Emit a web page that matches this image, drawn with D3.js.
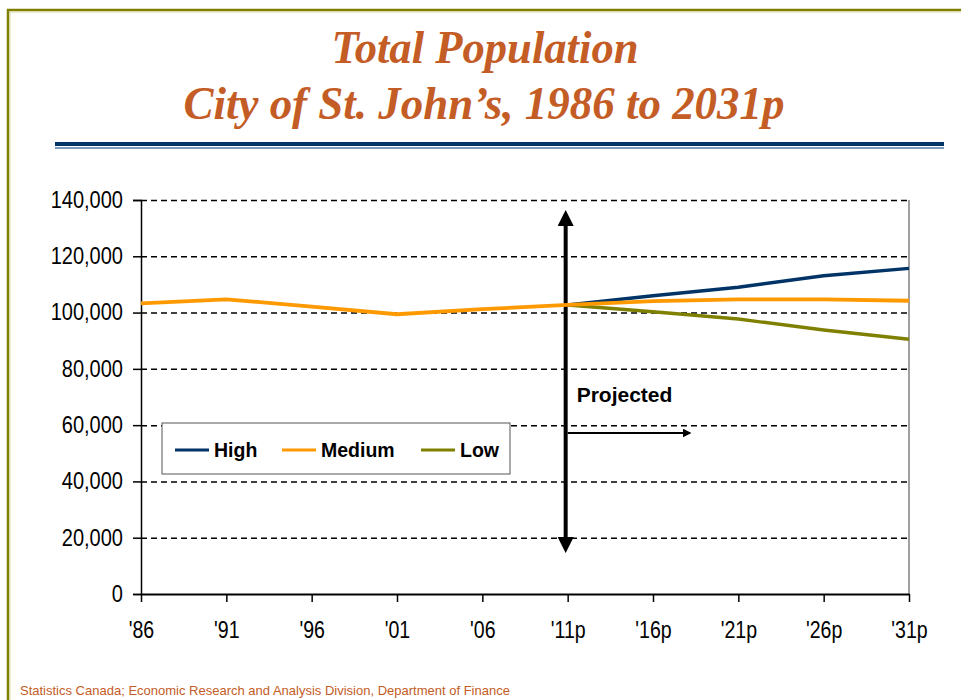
<!DOCTYPE html>
<html>
<head>
<meta charset="utf-8">
<script src="https://cdn.jsdelivr.net/npm/d3@7"></script>
<style>
  body { margin: 0; background: #fff; }
  .grid line { stroke: #000; stroke-dasharray: 6,4; stroke-width: 1.5; }
  .grid path { stroke: none; }
  .axis text { font-family: "Liberation Sans", Arial, sans-serif; font-size: 23px; fill: #000; }
</style>
</head>
<body>
<div id="chart"></div>
<script>
const W = 961, H = 700
const margin = {top: 200, right: 52, bottom: 106, left: 141}
const width = W - margin.left - margin.right, height = H - margin.top - margin.bottom

const years = ["'86", "'91", "'96", "'01", "'06", "'11p", "'16p", "'21p", "'26p", "'31p"]
const yTicks = [0, 20000, 40000, 60000, 80000, 100000, 120000, 140000]
const medium = [103300, 104700, 102100, 99400, 101200, 102700, 104100, 104700, 104700, 104200]
const high   = [null, null, null, null, null, 102700, 106000, 109000, 113100, 115700]
const low    = [null, null, null, null, null, 102700, 100300, 97700, 93800, 90500]
const seriesNames = ["High", "Medium", "Low"]
const seriesColors = ["#003366", "#ff9900", "#808000"]

const svg = d3.select("#chart").append("svg")
    .attr("width", W).attr("height", H)

// page frame
svg.append("path").attr("d", "M8,700V10H961").attr("fill", "none").attr("stroke", "#808000").attr("stroke-width", 2.5)
svg.append("path").attr("d", "M10,700V12H961").attr("fill", "none").attr("stroke", "#d8d8a0").attr("stroke-width", 1)

// title
const title = svg.append("g").attr("font-family", "'Liberation Serif', 'Times New Roman', serif")
    .attr("font-weight", "bold").attr("font-style", "italic").attr("fill", "#c45c26")
    .attr("font-size", 46).attr("text-anchor", "middle")
title.append("text").attr("x", 485).attr("y", 63).attr("textLength", 307).attr("lengthAdjust", "spacingAndGlyphs").text("Total Population")
title.append("text").attr("x", 484).attr("y", 119).attr("textLength", 601).attr("lengthAdjust", "spacingAndGlyphs").text("City of St. John\u2019s, 1986 to 2031p")

// double rule under the title
svg.append("rect").attr("x", 55).attr("y", 142).attr("width", 889).attr("height", 4).attr("fill", "#003366")
svg.append("rect").attr("x", 55).attr("y", 147).attr("width", 889).attr("height", 2).attr("fill", "#7f9bbf")

const g = svg.append("g").attr("transform", `translate(${margin.left},${margin.top})`)

const x = d3.scalePoint().domain(years).range([0, width])
const y = d3.scaleLinear().domain([0, 140000]).range([height, 0])

// gridlines
g.append("g").attr("class", "grid")
    .call(d3.axisLeft(y).tickValues(yTicks.filter(d => d > 0)).tickSize(-width).tickFormat(""))

// right border of plot
g.append("line").attr("x1", width).attr("x2", width).attr("y1", 0).attr("y2", height).attr("stroke", "#808080").attr("stroke-width", 1.5)

// narrow the axis labels (reference uses a condensed face)
function condense(sel, k) {
    sel.selectAll("text").each(function () {
        const len = this.getComputedTextLength()
        d3.select(this).attr("textLength", len * k).attr("lengthAdjust", "spacingAndGlyphs")
    })
}

// y axis
const yAxis = g.append("g").attr("class", "axis")
    .call(d3.axisLeft(y).tickValues(yTicks).tickSize(8).tickPadding(10).tickFormat(d3.format(",")))
yAxis.select(".domain").attr("stroke-width", 1.5)
yAxis.selectAll(".tick line").attr("stroke-width", 1.5)
condense(yAxis, 0.87)

// x axis
const xAxis = g.append("g").attr("class", "axis").attr("transform", `translate(0,${height})`)
    .call(d3.axisBottom(x).tickSize(8).tickSizeOuter(0).tickPadding(20))
xAxis.select(".domain").attr("stroke-width", 2)
xAxis.selectAll(".tick line").attr("stroke-width", 1.5)
condense(xAxis, 0.85)

// projection arrows
const xp = x("'11p") - 2
const defs = svg.append("defs")
defs.append("marker").attr("id", "bighead").attr("viewBox", "0 0 10 10").attr("refX", 5).attr("refY", 5)
    .attr("markerWidth", 4.2).attr("markerHeight", 4).attr("orient", "auto-start-reverse").attr("markerUnits", "strokeWidth")
    .append("path").attr("d", "M0,0L10,5L0,10Z").attr("fill", "#000")
defs.append("marker").attr("id", "smallhead").attr("viewBox", "0 0 10 10").attr("refX", 5).attr("refY", 5)
    .attr("markerWidth", 5).attr("markerHeight", 5).attr("orient", "auto").attr("markerUnits", "strokeWidth")
    .append("path").attr("d", "M0,0L10,5L0,10Z").attr("fill", "#000")
g.append("line").attr("x1", xp).attr("x2", xp).attr("y1", 18).attr("y2", 345)
    .attr("stroke", "#000").attr("stroke-width", 4)
    .attr("marker-start", "url(#bighead)").attr("marker-end", "url(#bighead)")
g.append("line").attr("x1", xp + 2).attr("x2", 546).attr("y1", 233).attr("y2", 233)
    .attr("stroke", "#000").attr("stroke-width", 1.8).attr("marker-end", "url(#smallhead)")
g.append("text").attr("x", xp + 11).attr("y", 202)
    .attr("font-family", "'Liberation Sans', Arial, sans-serif").attr("font-weight", "bold").attr("font-size", 21)
    .text("Projected")

// series lines
const line = d3.line().defined(d => d != null).x((d, i) => x(years[i])).y(d => y(d))
;[high, low, medium].forEach(s => {
    const i = s === high ? 0 : s === medium ? 1 : 2
    g.append("path").datum(s).attr("fill", "none")
        .attr("stroke", seriesColors[i]).attr("stroke-width", i === 1 ? 3.8 : 3.4).attr("stroke-linejoin", "round")
        .attr("d", line)
})

// legend
const legend = svg.append("g").attr("transform", "translate(162,423)")
legend.append("rect").attr("width", 348).attr("height", 51).attr("fill", "#fff").attr("stroke", "#555").attr("stroke-width", 1)
const legendX = [13, 120, 259]
seriesNames.forEach((name, i) => {
    const it = legend.append("g").attr("transform", `translate(${legendX[i]},27)`)
    it.append("line").attr("x1", 0).attr("x2", 34).attr("stroke", seriesColors[i]).attr("stroke-width", 3)
    it.append("text").attr("x", 39).attr("y", 7)
        .attr("font-family", "'Liberation Sans', Arial, sans-serif").attr("font-weight", "bold").attr("font-size", 19.5)
        .text(name)
})

// source
svg.append("text").attr("x", 20).attr("y", 695)
    .attr("font-family", "'Liberation Sans', Arial, sans-serif").attr("font-size", 13).attr("fill", "#c45c26")
    .text("Statistics Canada; Economic Research and Analysis Division, Department of Finance")
</script>
</body>
</html>
